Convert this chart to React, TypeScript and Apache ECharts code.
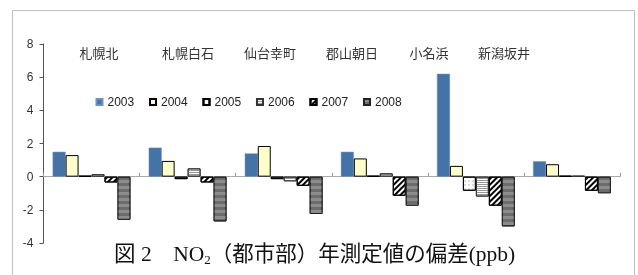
import React, { useEffect, useRef } from "react";
import * as echarts from "echarts";

const stations = ["札幌北", "札幌白石", "仙台幸町", "郡山朝日", "小名浜", "新潟坂井"];
const years = ["2003", "2004", "2005", "2006", "2007", "2008"];
const v2003 = [1.5, 1.75, 1.4, 1.5, 6.2, 0.93];
const v2004 = [1.3, 0.95, 1.85, 1.1, 0.65, 0.75];
const v2005 = [0.05, -0.15, -0.15, 0.05, -0.85, 0.05];
const v2006 = [0.15, 0.5, -0.28, 0.2, -1.2, 0.05];
const v2007 = [-0.35, -0.35, -0.55, -1.15, -1.75, -0.85];
const v2008 = [-2.6, -2.7, -2.25, -1.75, -3.0, -1.0];
const yTicks = [-4, -2, 0, 2, 4, 6, 8];
const caption = "図 2　NO";
const captionSub = "2";
const captionRest = "（都市部）年測定値の偏差(ppb)";

const seriesValues = [v2003, v2004, v2005, v2006, v2007, v2008];

export default function App() {
  const ref = useRef<HTMLDivElement>(null);
  useEffect(() => {
    if (!ref.current) return;
    const chart = echarts.init(ref.current, null, { renderer: "svg" });
    const styles: any[] = [
      { color: "#4572A7", borderColor: "#6f8fbf", borderWidth: 0.5 },
      { color: "#FFFFCC", borderColor: "#000", borderWidth: 1 },
      {
        color: "#ffffff",
        borderColor: "#000",
        borderWidth: 1,
        decal: { symbol: "circle", symbolSize: 0.6, dashArrayX: [2, 2], dashArrayY: [2, 2], color: "#999" },
      },
      {
        color: "#ffffff",
        borderColor: "#333",
        borderWidth: 1,
        decal: { symbol: "rect", symbolSize: 1, dashArrayX: [1, 0], dashArrayY: [1, 1], color: "#999" },
      },
      {
        color: "#ffffff",
        borderColor: "#000",
        borderWidth: 1,
        decal: { symbol: "rect", symbolSize: 1, dashArrayX: [1, 0], dashArrayY: [2, 2], rotation: -Math.PI / 4, color: "#000" },
      },
      {
        color: "#6c6c6c",
        borderColor: "#222",
        borderWidth: 1,
        decal: { symbol: "rect", symbolSize: 1, dashArrayX: [1, 0], dashArrayY: [3, 3], color: "#8c8c8c" },
      },
    ];
    const labelX = [99, 188, 270, 352, 429, 504];
    chart.setOption({
      animation: false,
      grid: { left: 43.5, right: 18, top: 44, bottom: 32 },
      legend: {
        data: years,
        left: 90.5,
        top: 91,
        itemWidth: 6,
        itemHeight: 6,
        itemGap: 14.8,
        icon: "rect",
        textStyle: { fontSize: 12, color: "#222", fontFamily: "Liberation Sans, Arial, sans-serif" },
      },
      xAxis: {
        type: "category",
        data: stations,
        axisLine: { onZero: true, lineStyle: { color: "#aaa", width: 1 } },
        axisTick: { show: true, inside: true, length: 4, lineStyle: { color: "#999" } },
        axisLabel: { show: false },
      },
      yAxis: {
        type: "value",
        min: yTicks[0],
        max: yTicks[yTicks.length - 1],
        interval: 2,
        splitLine: { show: false },
        axisLine: { show: true, lineStyle: { color: "#555" } },
        axisTick: { show: true, length: 4, lineStyle: { color: "#555" } },
        axisLabel: { fontSize: 12, color: "#333", margin: 10, fontFamily: "Liberation Sans, Arial, sans-serif" },
      },
      series: years.map((y, i) => ({
        name: y,
        type: "bar",
        data: seriesValues[i],
        barGap: 0,
        barCategoryGap: "19%",
        itemStyle: styles[i],
      })),
      graphic: [
        {
          type: "rect",
          shape: { x: 12.5, y: 10.5, width: 622, height: 300 },
          style: { fill: "none", stroke: "#c0c0c0", lineWidth: 1 },
          silent: true,
          z: -10,
        },
        ...stations.map((s, i) => ({
          type: "text",
          x: labelX[i],
          y: 52,
          style: {
            text: s,
            fontSize: 13,
            fill: "#333",
            fontFamily: "Noto Sans CJK JP",
            align: "center",
            verticalAlign: "middle",
          },
        })),
        {
          type: "text",
          x: 114,
          y: 254,
          style: {
            text: "{a|" + caption + "}{s|" + captionSub + "}{a|" + captionRest + "}",
            verticalAlign: "middle",
            rich: {
              a: { fontSize: 21.5, fill: "#111", fontFamily: "Liberation Serif, Noto Sans CJK JP", lineHeight: 24 },
              s: { fontSize: 13, fill: "#111", fontFamily: "Liberation Serif", lineHeight: 24, verticalAlign: "bottom", padding: [10, 0, 0, 0] },
            },
          },
        },
      ],
    });
    return () => chart.dispose();
  }, []);
  return <div ref={ref} style={{ position: "fixed", left: 0, top: 0, width: 638, height: 275 }} />;
}
